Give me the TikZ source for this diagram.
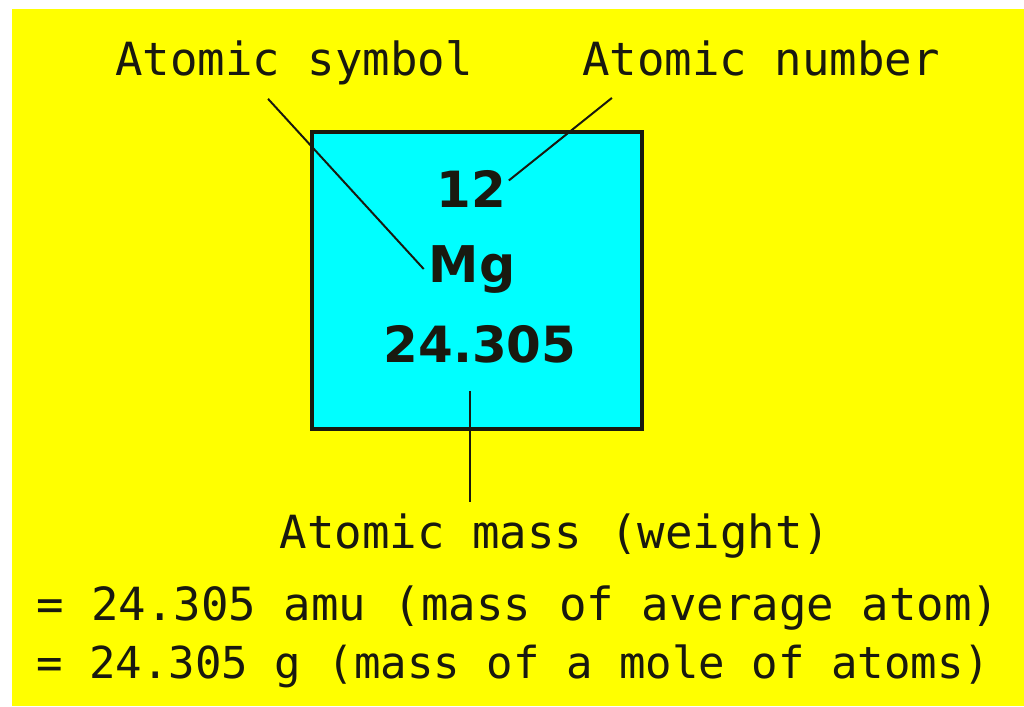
\documentclass[tikz,border=0pt]{standalone}
\usepackage{fontspec}
\setmonofont{DejaVu Sans Mono}
\newfontfamily\cellfont{DejaVu Sans}
\usepackage{tikz}
\definecolor{bgYellow}{RGB}{255, 255, 0}
\definecolor{cellCyan}{RGB}{0, 255, 255}
\definecolor{inkDark}{RGB}{25, 25, 15}

\begin{document}
\begin{tikzpicture}[x=0.025cm, y=-0.025cm,
    lbl/.style={font=\ttfamily\fontsize{32.5}{38}\selectfont, text=inkDark, inner sep=0pt},
    cellnum/.style={font=\cellfont\bfseries\fontsize{35.5}{40}\selectfont, text=inkDark, inner sep=2pt},
    cellsym/.style={font=\cellfont\bfseries\fontsize{36}{40}\selectfont, text=inkDark},
    conn/.style={line width=1.4pt, draw=inkDark}]
        \useasboundingbox (0,0) rectangle (1024,706);
        \fill[white] (0,0) rectangle (1024,706);
        \fill[bgYellow] (12,9) rectangle (1024,706);
        % the element cell
        \node[draw=inkDark, line width=2.6pt, fill=cellCyan, minimum width=8.25cm, minimum height=7.425cm] (cell) at (477,280.5) {};
        \node[cellnum, anchor=base] (z) at (471,207) {12};
        \node[cellsym, anchor=base] (mg) at (472,282) {Mg};
        \node[cellnum, anchor=base] (mw) at (480,362) {24.305};
        % labels
        \node[lbl, anchor=base] (sym) at (294,75) {Atomic symbol};
        \node[lbl, anchor=base] (num) at (761,75) {Atomic number};
        \node[lbl, anchor=base] (mass) at (555,548) {Atomic mass (weight)};
        \node[lbl, anchor=base west] (eq1) at (36,620) {= 24.305 amu (mass of average atom)};
        \node[lbl, font=\ttfamily\fontsize{31.3}{38}\selectfont, anchor=base west] (eq2) at (36,678) {= 24.305 g (mass of a mole of atoms)};
        % connectors
        \draw[conn] ([xshift=-0.65cm, yshift=-0.35cm]sym.south) -- (mg.west);
        \draw[conn] ([xshift=0.75cm, yshift=-0.55cm]num.south west) -- ([yshift=0.2cm]z.east);
        \coordinate (mwFoot) at ([xshift=-0.25cm, yshift=-0.625cm]mw.south);
        \coordinate (massTop) at ([yshift=0.275cm]mass.north);
        \draw[conn] (mwFoot) -- (mwFoot |- massTop);
      \end{tikzpicture}
\end{document}
